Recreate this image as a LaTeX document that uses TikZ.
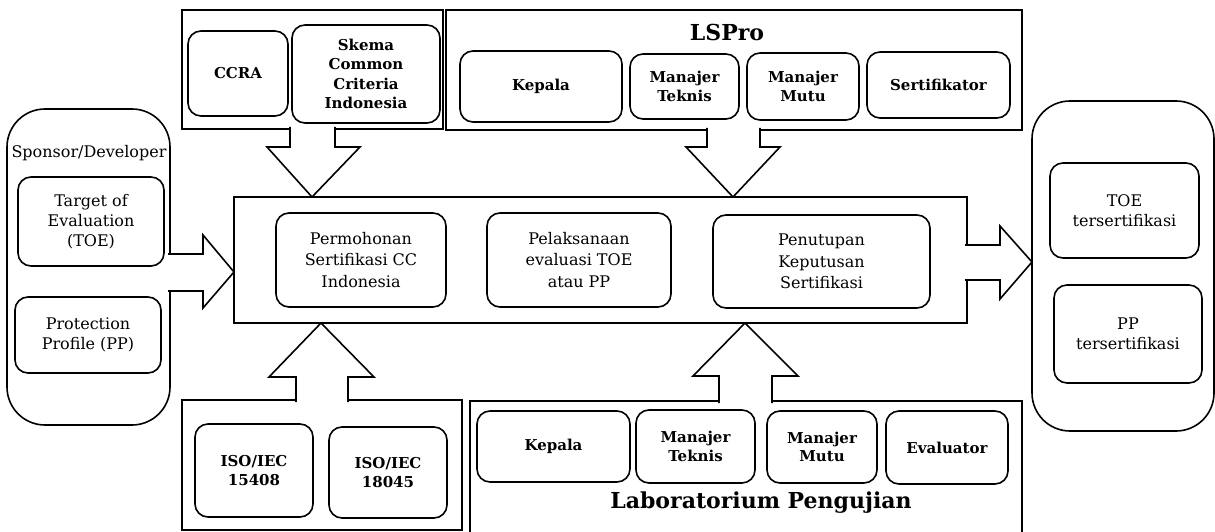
\documentclass[tikz,border=0pt]{standalone}
\usepackage{fontspec}
\setmainfont{DejaVu Serif}
\begin{document}
\begin{tikzpicture}[x=1pt,y=-1pt,
  grp/.style={draw,line width=1.7pt,fill=white,inner sep=0pt,outer sep=0pt},
  rbox/.style={draw,line width=1.6pt,rounded corners=13pt,fill=white,inner sep=0pt,outer sep=0pt,align=center},
  big/.style={draw,line width=1.6pt,rounded corners=38pt,inner sep=0pt,outer sep=0pt},
  reg/.style={font=\fontsize{16}{21.5}\selectfont,text=black},
  bld/.style={font=\bfseries\fontsize{15}{18.5}\selectfont},
  blkarrow/.style={draw,line width=1.6pt,fill=white,line join=miter}]
\useasboundingbox (0,0) rectangle (1215,532);

% Sponsor / Developer
\node[big,minimum width=163pt,minimum height=316pt] (sponsor) at (88.5,267) {};
\node[reg,inner sep=0pt] (sponsortxt) at (89,153) {Sponsor/Developer};
\node[rbox,reg,minimum width=146pt,minimum height=89pt,font=\fontsize{16}{20}\selectfont] (toe) at (91,221.5) {Target of\\Evaluation\\(TOE)};
\node[rbox,reg,minimum width=146pt,minimum height=76pt,font=\fontsize{16}{20}\selectfont] (pp) at (88,335) {Protection\\Profile (PP)};

% top-left group
\node[grp,minimum width=261pt,minimum height=119pt] (ccragrp) at (312.5,69.5) {};
\node[rbox,bld,minimum width=100pt,minimum height=85pt] (ccra) at (238,73.5) {CCRA};
\node[rbox,bld,minimum width=148pt,minimum height=98pt,font=\bfseries\fontsize{15}{19.5}\selectfont] (skema) at (366,74) {Skema\\Common\\Criteria\\Indonesia};

% LSPro group
\node[grp,minimum width=576pt,minimum height=120pt] (lspro) at (734,70) {};
\node[font=\bfseries\fontsize{22}{26}\selectfont,inner sep=0pt] (lsprotxt) at (727,32) {LSPro};
\node[rbox,bld,minimum width=162pt,minimum height=71pt] (kep1) at (541,86.5) {Kepala};
\node[rbox,bld,minimum width=109pt,minimum height=65pt] (mt1) at (684.5,86.5) {Manajer\\Teknis};
\node[rbox,bld,minimum width=112pt,minimum height=67pt] (mm1) at (803,86.5) {Manajer\\Mutu};
\node[rbox,bld,minimum width=143pt,minimum height=66pt] (sert) at (938.5,85) {Sertifikator};

% main process
\node[grp,minimum width=733pt,minimum height=126pt] (main) at (600.5,260) {};
\node[rbox,reg,minimum width=170pt,minimum height=94pt] (perm) at (361,260) {Permohonan\\Sertifikasi CC\\Indonesia};
\node[rbox,reg,minimum width=184pt,minimum height=94pt] (pel) at (579,260) {Pelaksanaan\\evaluasi TOE\\atau PP};
\node[rbox,reg,minimum width=217pt,minimum height=93pt] (pen) at (821.5,261.5) {Penutupan\\Keputusan\\Sertifikasi};

% right result box
\node[big,minimum width=182pt,minimum height=330pt] (result) at (1123,266) {};
\node[rbox,reg,minimum width=149pt,minimum height=95pt,font=\fontsize{16}{19.5}\selectfont] (toet) at (1124.5,210.5) {TOE\\tersertifikasi};
\node[rbox,reg,minimum width=148pt,minimum height=98pt,font=\fontsize{16}{19.5}\selectfont] (ppt) at (1128,334) {PP\\tersertifikasi};

% ISO group
\node[grp,minimum width=280pt,minimum height=130pt] (isogrp) at (322,465) {};
\node[rbox,bld,minimum width=118pt,minimum height=93pt] (iso1) at (254,470.5) {ISO/IEC\\15408};
\node[rbox,bld,minimum width=118pt,minimum height=91pt] (iso2) at (388,472.5) {ISO/IEC\\18045};

% Laboratorium group
\node[grp,minimum width=552pt,minimum height=144pt] (lab) at (746,473) {};
\node[rbox,bld,minimum width=153pt,minimum height=71pt] (kep2) at (553.5,446.5) {Kepala};
\node[rbox,bld,minimum width=119pt,minimum height=73pt] (mt2) at (695.5,446.5) {Manajer\\Teknis};
\node[rbox,bld,minimum width=110pt,minimum height=72pt] (mm2) at (822,447) {Manajer\\Mutu};
\node[rbox,bld,minimum width=122pt,minimum height=73pt] (eval) at (947,447.5) {Evaluator};
\node[font=\bfseries\fontsize{22}{26}\selectfont,inner sep=0pt] (labtxt) at (761,503) {Laboratorium Pengujian};

% block arrows
\filldraw[blkarrow] (168,254) -- (203,254) -- (203,235) -- (main.west |- 0,272) -- (203,308) -- (203,291) -- (168,291);
\filldraw[blkarrow] (290,127) -- (290,147) -- (267,147) -- (main.north -| 312,0) -- (360,147) -- (335,147) -- (335,127);
\filldraw[blkarrow] (707,128) -- (707,147) -- (686,147) -- (main.north -| 733,0) -- (780,147) -- (760,147) -- (760,128);
\filldraw[blkarrow] (965,245) -- (1000,245) -- (1000,226) -- (result.west |- 0,262) -- (1000,299) -- (1000,280) -- (965,280);
\filldraw[blkarrow] (296,402) -- (296,377) -- (269,377) -- (main.south -| 321,0) -- (374,377) -- (348,377) -- (348,402);
\filldraw[blkarrow] (719,403) -- (719,376) -- (693,376) -- (main.south -| 745,0) -- (798,376) -- (772,376) -- (772,403);
\end{tikzpicture}
\end{document}
